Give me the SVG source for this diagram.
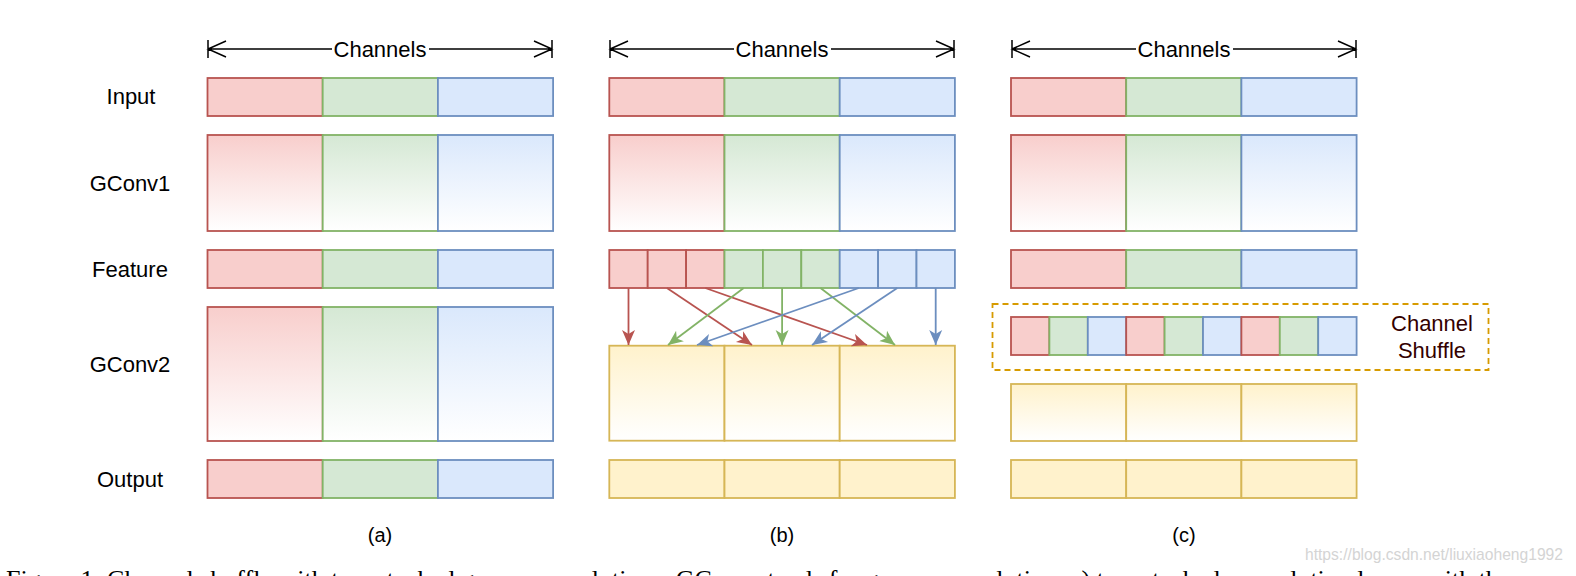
<svg xmlns="http://www.w3.org/2000/svg" width="1576" height="576" viewBox="0 0 1576 576">
<style>
text{font-family:"Liberation Sans",Arial,sans-serif;fill:#000}
.lbl{font-size:22px;text-anchor:middle}
.cap{font-size:20px;text-anchor:middle}
.r{fill:#f8cecc;stroke:#b85450;stroke-width:1.8}
.g{fill:#d5e8d4;stroke:#82b366;stroke-width:1.8}
.b{fill:#dae8fc;stroke:#6c8ebf;stroke-width:1.8}
.y{fill:#fff2cc;stroke:#d6b656;stroke-width:1.8}
.rg{fill:url(#gr);stroke:#b85450;stroke-width:1.8}
.gg{fill:url(#gg);stroke:#82b366;stroke-width:1.8}
.bg{fill:url(#gb);stroke:#6c8ebf;stroke-width:1.8}
.yg{fill:url(#gy);stroke:#d6b656;stroke-width:1.8}
.dim{stroke:#000;stroke-width:1.5;fill:none}
.ar{stroke-width:1.8;fill:none}
</style>
<defs>
<linearGradient id="gr" x1="0" y1="0" x2="0" y2="1"><stop offset="0" stop-color="#f8cecc"/><stop offset="1" stop-color="#ffffff"/></linearGradient>
<linearGradient id="gg" x1="0" y1="0" x2="0" y2="1"><stop offset="0" stop-color="#d5e8d4"/><stop offset="1" stop-color="#ffffff"/></linearGradient>
<linearGradient id="gb" x1="0" y1="0" x2="0" y2="1"><stop offset="0" stop-color="#dae8fc"/><stop offset="1" stop-color="#ffffff"/></linearGradient>
<linearGradient id="gy" x1="0" y1="0" x2="0" y2="1"><stop offset="0" stop-color="#fff2cc"/><stop offset="1" stop-color="#ffffff"/></linearGradient>
<marker id="mr" viewBox="0 0 16 16" refX="15" refY="8" markerWidth="16" markerHeight="16" markerUnits="userSpaceOnUse" orient="auto"><path d="M0,1.5 L15,8 L0,14.5 L4,8 Z" fill="#b85450"/></marker>
<marker id="mg" viewBox="0 0 16 16" refX="15" refY="8" markerWidth="16" markerHeight="16" markerUnits="userSpaceOnUse" orient="auto"><path d="M0,1.5 L15,8 L0,14.5 L4,8 Z" fill="#82b366"/></marker>
<marker id="mb" viewBox="0 0 16 16" refX="15" refY="8" markerWidth="16" markerHeight="16" markerUnits="userSpaceOnUse" orient="auto"><path d="M0,1.5 L15,8 L0,14.5 L4,8 Z" fill="#6c8ebf"/></marker>
</defs>
<rect width="1576" height="576" fill="#fff"/>

<g id="labels">
<text class="lbl" x="131" y="104">Input</text>
<text class="lbl" x="130" y="191">GConv1</text>
<text class="lbl" x="130" y="277">Feature</text>
<text class="lbl" x="130" y="372">GConv2</text>
<text class="lbl" x="130" y="487">Output</text>
</g>

<g id="channels-a">
<path class="dim" d="M208,40 V58 M226,41 L208,49 L226,57 M208,49 H332 M429,49 H552 M534,41 L552,49 L534,57 M552,40 V58"/>
<text class="lbl" x="380" y="57">Channels</text>
</g>
<g id="channels-b">
<path class="dim" d="M610,40 V58 M628,41 L610,49 L628,57 M610,49 H734 M831,49 H954 M936,41 L954,49 L936,57 M954,40 V58"/>
<text class="lbl" x="782" y="57">Channels</text>
</g>
<g id="channels-c">
<path class="dim" d="M1012,40 V58 M1030,41 L1012,49 L1030,57 M1012,49 H1136 M1233,49 H1356 M1338,41 L1356,49 L1338,57 M1356,40 V58"/>
<text class="lbl" x="1184" y="57">Channels</text>
</g>

<g id="a-input"><rect class="r" x="207.5" y="78" width="115.2" height="38"/><rect class="g" x="322.7" y="78" width="115.2" height="38"/><rect class="b" x="437.9" y="78" width="115.2" height="38"/></g>
<g id="a-gconv1"><rect class="rg" x="207.5" y="135" width="115.2" height="96"/><rect class="gg" x="322.7" y="135" width="115.2" height="96"/><rect class="bg" x="437.9" y="135" width="115.2" height="96"/></g>
<g id="a-feature"><rect class="r" x="207.5" y="250" width="115.2" height="38"/><rect class="g" x="322.7" y="250" width="115.2" height="38"/><rect class="b" x="437.9" y="250" width="115.2" height="38"/></g>
<g id="a-gconv2"><rect class="rg" x="207.5" y="307" width="115.2" height="134"/><rect class="gg" x="322.7" y="307" width="115.2" height="134"/><rect class="bg" x="437.9" y="307" width="115.2" height="134"/></g>
<g id="a-output"><rect class="r" x="207.5" y="460" width="115.2" height="38"/><rect class="g" x="322.7" y="460" width="115.2" height="38"/><rect class="b" x="437.9" y="460" width="115.2" height="38"/></g>

<g id="b-input"><rect class="r" x="609.3" y="78" width="115.2" height="38"/><rect class="g" x="724.5" y="78" width="115.2" height="38"/><rect class="b" x="839.7" y="78" width="115.2" height="38"/></g>
<g id="b-gconv1"><rect class="rg" x="609.3" y="135" width="115.2" height="96"/><rect class="gg" x="724.5" y="135" width="115.2" height="96"/><rect class="bg" x="839.7" y="135" width="115.2" height="96"/></g>
<g id="b-feature">
<rect class="r" x="609.3" y="250" width="38.4" height="38"/><rect class="r" x="647.7" y="250" width="38.4" height="38"/><rect class="r" x="686.1" y="250" width="38.4" height="38"/>
<rect class="g" x="724.5" y="250" width="38.4" height="38"/><rect class="g" x="762.9" y="250" width="38.4" height="38"/><rect class="g" x="801.3" y="250" width="38.4" height="38"/>
<rect class="b" x="839.7" y="250" width="38.4" height="38"/><rect class="b" x="878.1" y="250" width="38.4" height="38"/><rect class="b" x="916.5" y="250" width="38.4" height="38"/>
</g>
<g id="b-gconv2"><rect class="yg" x="609.3" y="345.7" width="115.2" height="95"/><rect class="yg" x="724.5" y="345.7" width="115.2" height="95"/><rect class="yg" x="839.7" y="345.7" width="115.2" height="95"/></g>
<g id="b-output"><rect class="y" x="609.3" y="460" width="115.2" height="38"/><rect class="y" x="724.5" y="460" width="115.2" height="38"/><rect class="y" x="839.7" y="460" width="115.2" height="38"/></g>

<g id="connectors">
<line class="ar" stroke="#b85450" marker-end="url(#mr)" x1="628.5" y1="288" x2="628.5" y2="345"/>
<line class="ar" stroke="#b85450" marker-end="url(#mr)" x1="666.9" y1="288" x2="752" y2="345"/>
<line class="ar" stroke="#b85450" marker-end="url(#mr)" x1="705.3" y1="288" x2="867" y2="345"/>
<line class="ar" stroke="#82b366" marker-end="url(#mg)" x1="743.7" y1="288" x2="668" y2="345"/>
<line class="ar" stroke="#82b366" marker-end="url(#mg)" x1="782.1" y1="288" x2="782.1" y2="345"/>
<line class="ar" stroke="#82b366" marker-end="url(#mg)" x1="820.5" y1="288" x2="895" y2="345"/>
<line class="ar" stroke="#6c8ebf" marker-end="url(#mb)" x1="858.9" y1="288" x2="697" y2="345"/>
<line class="ar" stroke="#6c8ebf" marker-end="url(#mb)" x1="897.3" y1="288" x2="812" y2="345"/>
<line class="ar" stroke="#6c8ebf" marker-end="url(#mb)" x1="935.7" y1="288" x2="935.7" y2="345"/>
</g>

<g id="c-input"><rect class="r" x="1011" y="78" width="115.2" height="38"/><rect class="g" x="1126.2" y="78" width="115.2" height="38"/><rect class="b" x="1241.4" y="78" width="115.2" height="38"/></g>
<g id="c-gconv1"><rect class="rg" x="1011" y="135" width="115.2" height="96"/><rect class="gg" x="1126.2" y="135" width="115.2" height="96"/><rect class="bg" x="1241.4" y="135" width="115.2" height="96"/></g>
<g id="c-feature"><rect class="r" x="1011" y="250" width="115.2" height="38"/><rect class="g" x="1126.2" y="250" width="115.2" height="38"/><rect class="b" x="1241.4" y="250" width="115.2" height="38"/></g>
<g id="c-shuffle">
<rect x="992.5" y="304" width="496" height="66" fill="none" stroke="#d79b00" stroke-width="1.8" stroke-dasharray="6,4"/>
<rect class="r" x="1011" y="317" width="38.4" height="38"/><rect class="g" x="1049.4" y="317" width="38.4" height="38"/><rect class="b" x="1087.8" y="317" width="38.4" height="38"/>
<rect class="r" x="1126.2" y="317" width="38.4" height="38"/><rect class="g" x="1164.6" y="317" width="38.4" height="38"/><rect class="b" x="1203" y="317" width="38.4" height="38"/>
<rect class="r" x="1241.4" y="317" width="38.4" height="38"/><rect class="g" x="1279.8" y="317" width="38.4" height="38"/><rect class="b" x="1318.2" y="317" width="38.4" height="38"/>
<text class="lbl" x="1432" y="331" style="fill:#330000">Channel</text>
<text class="lbl" x="1432" y="358" style="fill:#330000">Shuffle</text>
</g>
<g id="c-gconv2"><rect class="yg" x="1011" y="384" width="115.2" height="57"/><rect class="yg" x="1126.2" y="384" width="115.2" height="57"/><rect class="yg" x="1241.4" y="384" width="115.2" height="57"/></g>
<g id="c-output"><rect class="y" x="1011" y="460" width="115.2" height="38"/><rect class="y" x="1126.2" y="460" width="115.2" height="38"/><rect class="y" x="1241.4" y="460" width="115.2" height="38"/></g>

<g id="captions">
<text class="cap" x="380" y="542">(a)</text>
<text class="cap" x="782" y="542">(b)</text>
<text class="cap" x="1184" y="542">(c)</text>
</g>
<text x="1305" y="560" style="font-size:17px;fill:#d4d4d4" textLength="258" lengthAdjust="spacingAndGlyphs">https://blog.csdn.net/liuxiaoheng1992</text>
<text x="6" y="588" style="font-family:'Liberation Serif','Times New Roman',serif;font-size:26px">Figure 1: Channel shuffle with two stacked group convolutions. GConv stands for group convolution. a) two stacked convolution layers with the same</text>
</svg>
